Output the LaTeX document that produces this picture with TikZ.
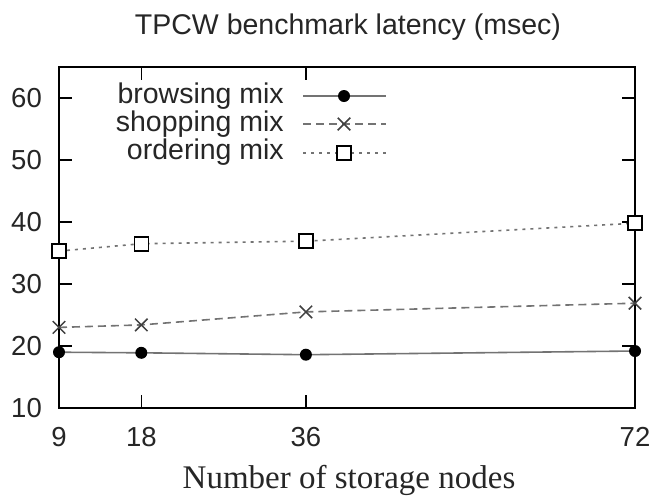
\documentclass[tikz,border=0pt]{standalone}
\usepackage{fontspec}
\setmainfont{Liberation Serif}
\setsansfont{Liberation Sans}
\usetikzlibrary{shapes.misc}
\begin{document}
\begin{tikzpicture}[x=1pt,y=-1pt,
  frame/.style={line width=1.6pt,black},
  tickline/.style={line width=1.4pt,black},
  lbl/.style={font=\sffamily\fontsize{27.5}{30}\selectfont,inner sep=0pt,text=black!85},
  leg/.style={font=\sffamily\fontsize{28.5}{30}\selectfont,inner sep=0pt,anchor=base east,text=black!85},
  series/.style={line width=1.6pt,draw=black!55},
  bser/.style={series},
  sser/.style={series,dash pattern=on 8pt off 5pt},
  oser/.style={series,dash pattern=on 3pt off 5pt},
  dotmark/.style={circle,fill=black,inner sep=0pt,minimum size=12pt},
  crossmark/.style={cross out,draw=black!75,line width=1.5pt,inner sep=0pt,minimum size=11pt},
  boxmark/.style={rectangle,draw=black,fill=white,line width=1.6pt,inner sep=0pt,minimum size=14pt}]
\fill[white] (0,0) rectangle (652,499);
\useasboundingbox (0,0) rectangle (652,499);

% title and axis label
\node[font=\sffamily\fontsize{28.5}{30}\selectfont,anchor=base,inner sep=0pt,text=black!85] (title) at (348,34) {TPCW benchmark latency (msec)};
\node[font=\rmfamily\fontsize{33}{36}\selectfont,anchor=base,inner sep=0pt,text=black!85] (xlabel) at (349,488) {Number of storage nodes};

% frame
\draw[frame] (59,67) rectangle (635,408);

% y ticks and labels
\foreach \v/\y in {20/346,30/284,40/222,50/160,60/98}{
  \draw[tickline] (59,\y) -- (72,\y);
  \draw[tickline] (635,\y) -- (622,\y);
}
\foreach \v/\y in {10/408,20/346,30/284,40/222,50/160,60/98}{
  \node[lbl,anchor=east] (y\v) at (42,\y) {\v};
}
% x ticks and labels
\foreach \x in {141.3,305.9}{
  \draw[tickline] (\x,67) -- (\x,80);
  \draw[tickline] (\x,408) -- (\x,395);
}
\foreach \n/\x in {9/59,18/141.3,36/305.9,72/635}{
  \node[lbl,anchor=north] (x\n) at (\x,427) {\n};
}

% data coordinates
\coordinate (b1) at (59,352.2);
\coordinate (b2) at (141.3,352.8);
\coordinate (b3) at (305.9,354.7);
\coordinate (b4) at (635,351.0);
\coordinate (s1) at (59,327.4);
\coordinate (s2) at (141.3,324.9);
\coordinate (s3) at (305.9,311.9);
\coordinate (s4) at (635,303.2);
\coordinate (o1) at (59,251.1);
\coordinate (o2) at (141.3,243.7);
\coordinate (o3) at (305.9,241.2);
\coordinate (o4) at (635,223.2);

\draw[bser] (b1) -- (b2) -- (b3) -- (b4);
\draw[sser] (s1) -- (s2) -- (s3) -- (s4);
\draw[oser] (o1) -- (o2) -- (o3) -- (o4);

\foreach \i in {1,2,3,4}{
  \node[dotmark] (mb\i) at (b\i) {};
  \node[crossmark] (ms\i) at (s\i) {};
  \node[boxmark] (mo\i) at (o\i) {};
}

% legend
\node[leg] (lb) at (284,103) {browsing mix};
\node[leg] (ls) at (284,131) {shopping mix};
\node[leg] (lo) at (284,159) {ordering mix};
\coordinate (lba) at (303,96);  \coordinate (lbb) at (386,96);
\coordinate (lsa) at (303,124); \coordinate (lsb) at (386,124);
\coordinate (loa) at (303,153); \coordinate (lob) at (386,153);
\draw[bser] (lba) -- (lbb);
\draw[sser] (lsa) -- (lsb);
\draw[oser] (loa) -- (lob);
\node[dotmark] (lbm) at (344,96) {};
\node[crossmark] (lsm) at (344,124) {};
\node[boxmark] (lom) at (344,153) {};
\end{tikzpicture}
\end{document}
